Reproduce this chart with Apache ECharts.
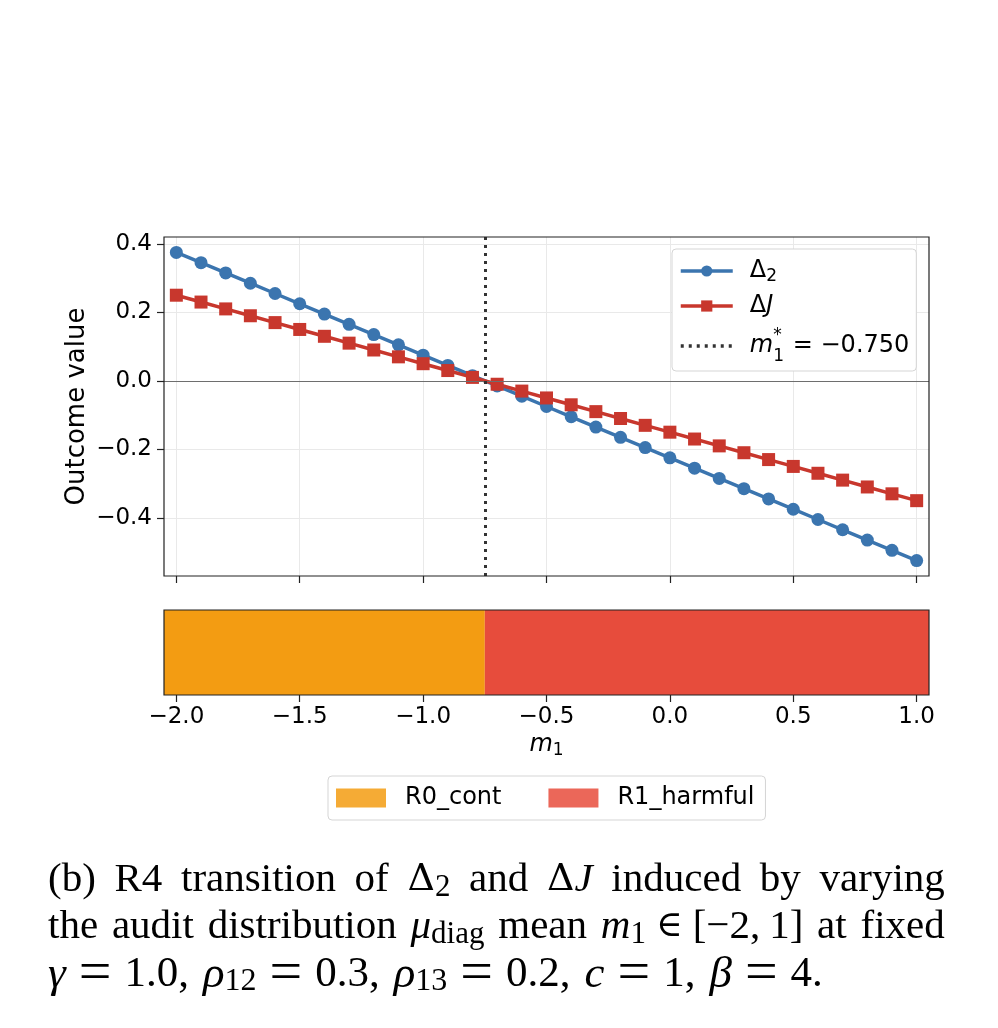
<!DOCTYPE html>
<html>
<head>
<meta charset="utf-8">
<style>
  html, body { margin: 0; padding: 0; background: #fff; }
  #chart { width: 998px; height: 1028px; }
</style>
<script src="https://cdn.jsdelivr.net/npm/echarts@6/dist/echarts.min.js"></script>
</head>
<body>
<div id="chart"></div>
<script>
// data
const m1 = [-2.0, -1.9, -1.8, -1.7, -1.6, -1.5, -1.4, -1.3, -1.2, -1.1, -1.0,
            -0.9, -0.8, -0.7, -0.6, -0.5, -0.4, -0.3, -0.2, -0.1, 0.0,
            0.1, 0.2, 0.3, 0.4, 0.5, 0.6, 0.7, 0.8, 0.9, 1.0];
const delta2 = [0.375, 0.345, 0.315, 0.285, 0.255, 0.225, 0.195, 0.165, 0.135, 0.105, 0.075,
                0.045, 0.015, -0.015, -0.045, -0.075, -0.105, -0.135, -0.165, -0.195, -0.225,
                -0.255, -0.285, -0.315, -0.345, -0.375, -0.405, -0.435, -0.465, -0.495, -0.525];
const deltaJ = [0.25, 0.23, 0.21, 0.19, 0.17, 0.15, 0.13, 0.11, 0.09, 0.07, 0.05,
                0.03, 0.01, -0.01, -0.03, -0.05, -0.07, -0.09, -0.11, -0.13, -0.15,
                -0.17, -0.19, -0.21, -0.23, -0.25, -0.27, -0.29, -0.31, -0.33, -0.35];
const mStar = -0.75;

const xTicks = [-2.0, -1.5, -1.0, -0.5, 0.0, 0.5, 1.0];
const yTicks = [-0.4, -0.2, 0.0, 0.2, 0.4];

const regionNames = ['R0_cont', 'R1_harmful'];
const regionStart = [-2.05, -0.75];
const regionEnd = [-0.75, 1.05];

const xMin = -2.05, xMax = 1.05;
const yMin = -0.57, yMax = 0.42;

const blue = '#3b75af';
const red = '#c8372d';
const regionColors = ['#f39c12', '#e74c3c'];
const font = 'DejaVu Sans';
const serif = 'Liberation Serif';

function fmt(v) {
    return (v < 0 ? '\u2212' : '') + Math.abs(v).toFixed(1);
}

const myChart = echarts.init(document.getElementById('chart'));

const mathRich = {
    t: { fontFamily: font, fontSize: 24, lineHeight: 28, color: '#000' },
    i: { fontFamily: font, fontSize: 24, lineHeight: 28, fontStyle: 'italic', color: '#000' },
    sub: { fontFamily: font, fontSize: 17, lineHeight: 12, verticalAlign: 'bottom', color: '#000' },
    // taller line for the stacked m1* entry
    t3: { fontFamily: font, fontSize: 24, lineHeight: 38, color: '#000' },
    i3: { fontFamily: font, fontSize: 24, lineHeight: 38, fontStyle: 'italic', color: '#000' },
    sub3: { fontFamily: font, fontSize: 17, lineHeight: 20, width: 0, verticalAlign: 'bottom', color: '#000' },
    sup3: { fontFamily: font, fontSize: 17, lineHeight: 20, width: 12, verticalAlign: 'top', color: '#000' }
};

const legendLabels = {
    'delta2': '{t|\u0394}{sub|2}',
    'deltaJ': '{t|\u0394}{i|J}',
    'mstar': '{i3|m}{sub3|1}{sup3|*}{t3| = \u22120.750}'
};

// caption rich styles
const capSize = 41;
const capRich = {
    r: { fontFamily: serif, fontSize: capSize, lineHeight: 46, color: '#000' },
    i: { fontFamily: serif, fontSize: capSize, lineHeight: 46, fontStyle: 'italic', color: '#000' },
    mi: { fontFamily: serif, fontSize: 45, lineHeight: 46, fontStyle: 'italic', color: '#000' },
    n: { fontFamily: serif, fontSize: 43, lineHeight: 46, color: '#000' },
    g: { fontFamily: 'DejaVu Serif', fontSize: 38, lineHeight: 46, color: '#000' },
    s: { fontFamily: serif, fontSize: 31, lineHeight: 24, verticalAlign: 'bottom', color: '#000' },
    s3: { fontFamily: serif, fontSize: 32, lineHeight: 24, verticalAlign: 'bottom', color: '#000' },
    op: { fontFamily: serif, fontSize: 58, lineHeight: 46, padding: [0, 13, 0, 13], color: '#000' },
    el: { fontFamily: 'DejaVu Serif', fontSize: 36, lineHeight: 46, padding: [0, 10, 0, 10], color: '#000' },
    th: { fontFamily: serif, fontSize: capSize, lineHeight: 46, width: 9 },
    th3: { fontFamily: serif, fontSize: capSize, lineHeight: 46, width: 14 },
    w1: { fontFamily: serif, fontSize: capSize, lineHeight: 46, width: 18.7 },
    w2: { fontFamily: serif, fontSize: capSize, lineHeight: 46, width: 13.8 }
};

const captionLines = [
    '{r|(b)}{w1| }{r|R4}{w1| }{r|transition}{w1| }{r|of}{w1| }{g|\u0394}{s|2}{w1| }{r|and}{w1| }' +
    '{g|\u0394}{i|J}{w1| }{r|induced}{w1| }{r|by}{w1| }{r|varying}',
    '{r|the}{w2| }{r|audit}{w2| }{r|distribution}{w2| }{i|\u03bc}{s|diag}{w2| }{r|mean}{w2| }' +
    '{i|m}{s|1}{el|\u2208}{r|[\u22122,}{th| }{r|1]}{w2| }{r|at}{w2| }{r|fixed}',
    '{mi|\u03b3}{op|=}{n|1.0,}{th3| }{mi|\u03c1}{s3|12}{op|=}{n|0.3,}{th3| }{mi|\u03c1}{s3|13}{op|=}' +
    '{n|0.2,}{th3| }{mi|c}{op|=}{n|1,}{th3| }{mi|\u03b2}{op|=}{n|4.}'
];
const captionY = [880, 927, 975];

const option = {
    animation: false,
    backgroundColor: '#fff',
    textStyle: { fontFamily: font },
    grid: [
        { left: 164, top: 237, width: 765, height: 339, show: true, z: 10,
          borderColor: '#222', borderWidth: 1.2, backgroundColor: 'transparent' },
        { left: 164, top: 610, width: 765, height: 85, show: true, z: 10,
          borderColor: '#222', borderWidth: 1.2, backgroundColor: 'transparent' }
    ],
    xAxis: [
        {
            type: 'value', gridIndex: 0, min: xMin, max: xMax,
            axisLine: { show: false, onZero: false },
            axisTick: { show: true, length: 7, customValues: xTicks, lineStyle: { color: '#222', width: 1.2 } },
            axisLabel: { show: false, customValues: xTicks },
            splitLine: { show: true, lineStyle: { color: '#e9e9e9', width: 1 } }
        },
        {
            type: 'value', gridIndex: 1, min: xMin, max: xMax,
            axisLine: { show: false, onZero: false },
            axisTick: { show: true, length: 7, customValues: xTicks, lineStyle: { color: '#222', width: 1.2 } },
            axisLabel: { show: true, customValues: xTicks, formatter: fmt, margin: 11,
                         fontFamily: font, fontSize: 23, color: '#000' },
            splitLine: { show: false },
            name: '{i|m}{sub|1}',
            nameLocation: 'middle',
            nameGap: 36,
            nameMoveOverlap: false,
            nameTextStyle: { rich: mathRich }
        }
    ],
    yAxis: [
        {
            type: 'value', gridIndex: 0, min: yMin, max: yMax,
            axisLine: { show: false, onZero: false },
            axisTick: { show: true, length: 7, customValues: yTicks, lineStyle: { color: '#222', width: 1.2 } },
            axisLabel: { show: true, customValues: yTicks, formatter: fmt, margin: 12,
                         fontFamily: font, fontSize: 23, color: '#000' },
            splitLine: { show: true, lineStyle: { color: '#e9e9e9', width: 1 } },
            name: 'Outcome value',
            nameLocation: 'middle',
            nameGap: 74,
            nameMoveOverlap: false,
            nameTextStyle: { fontFamily: font, fontSize: 26, color: '#000' }
        },
        {
            type: 'value', gridIndex: 1, min: 0, max: 1,
            axisLine: { show: false, onZero: false }, axisTick: { show: false },
            axisLabel: { show: false }, splitLine: { show: false }
        }
    ],
    legend: [
        {
            data: [{ name: 'delta2' }, { name: 'deltaJ' }, { name: 'mstar', itemStyle: { opacity: 0 } }],
            orient: 'vertical',
            left: 672, top: 249,
            padding: [10, 7, 6, 7],
            itemGap: 9,
            itemWidth: 52, itemHeight: 14,
            backgroundColor: '#fff',
            borderColor: '#d5d5d5', borderWidth: 1, borderRadius: 4,
            lineStyle: { width: 3.5 },
            formatter: name => legendLabels[name],
            textStyle: { padding: [0, 0, 0, 12], rich: mathRich }
        },
        {
            data: regionNames,
            orient: 'horizontal',
            left: 328, top: 776,
            padding: [10, 11, 10, 8],
            itemGap: 47,
            itemWidth: 50, itemHeight: 19,
            icon: 'rect',
            itemStyle: { opacity: 0.85 },
            backgroundColor: '#fff',
            borderColor: '#d5d5d5', borderWidth: 1, borderRadius: 4,
            textStyle: { fontFamily: font, fontSize: 24, color: '#000', padding: [0, 0, 0, 14] }
        }
    ],
    graphic: captionLines.map((line, k) => ({
        type: 'text',
        x: 48, y: captionY[k],
        style: { text: line, rich: capRich, verticalAlign: 'middle', align: 'left' }
    })),
    series: [
        {
            name: 'zero', type: 'line', xAxisIndex: 0, yAxisIndex: 0, data: [], z: 1,
            markLine: {
                silent: true, symbol: ['none', 'none'], label: { show: false },
                lineStyle: { color: '#6e6e6e', width: 1.1, type: 'solid' },
                data: [{ yAxis: 0 }]
            }
        },
        {
            name: 'delta2', type: 'line', xAxisIndex: 0, yAxisIndex: 0, z: 3,
            data: m1.map((x, k) => [x, delta2[k]]),
            symbol: 'circle', symbolSize: 13,
            lineStyle: { color: blue, width: 3.5 },
            itemStyle: { color: blue }
        },
        {
            name: 'deltaJ', type: 'line', xAxisIndex: 0, yAxisIndex: 0, z: 3,
            data: m1.map((x, k) => [x, deltaJ[k]]),
            symbol: 'rect', symbolSize: 13,
            lineStyle: { color: red, width: 3.5 },
            itemStyle: { color: red }
        },
        {
            name: 'mstar', type: 'line', xAxisIndex: 0, yAxisIndex: 0, data: [], z: 4,
            symbol: 'none',
            lineStyle: { color: '#333', width: 3, type: [3, 5] },
            itemStyle: { color: '#333' },
            markLine: {
                silent: true, symbol: ['none', 'none'], label: { show: false },
                lineStyle: { color: '#333', width: 3, type: [3, 5] },
                data: [{ xAxis: mStar }]
            }
        }
    ].concat(regionNames.map((name, k) => ({
        name: name, type: 'custom', xAxisIndex: 1, yAxisIndex: 1, z: 2,
        data: [[regionStart[k], regionEnd[k]]],
        encode: { x: [0, 1] },
        itemStyle: { color: regionColors[k] },
        renderItem: function (params, api) {
            const p0 = api.coord([api.value(0), 1]);
            const p1 = api.coord([api.value(1), 0]);
            return {
                type: 'rect',
                shape: { x: p0[0], y: p0[1], width: p1[0] - p0[0], height: p1[1] - p0[1] },
                style: { fill: regionColors[k] }
            };
        }
    })))
};

myChart.setOption(option);
</script>
</body>
</html>
